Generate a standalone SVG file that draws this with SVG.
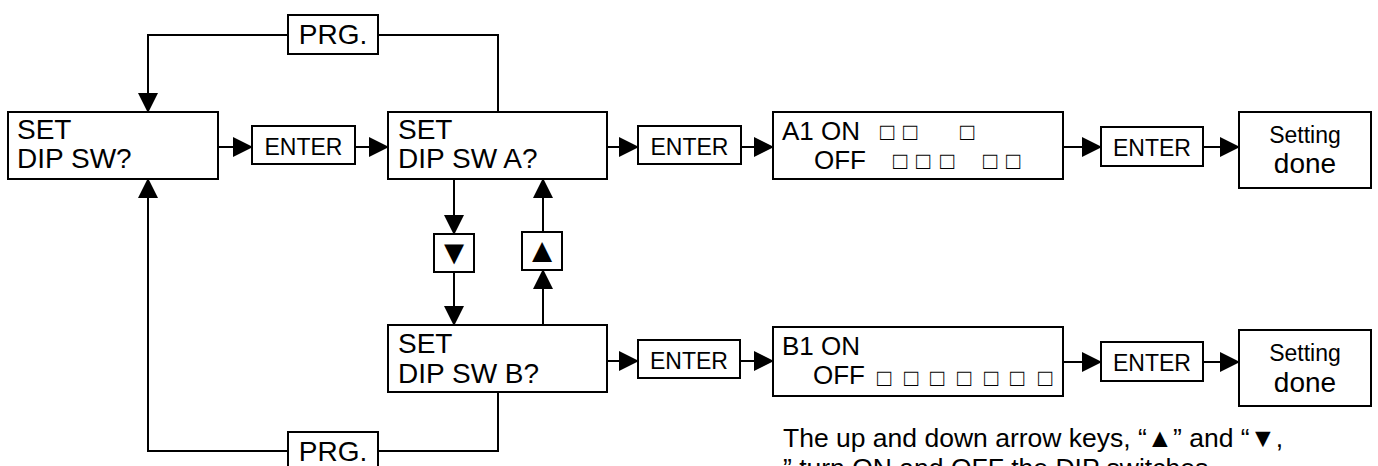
<svg xmlns="http://www.w3.org/2000/svg" width="1378" height="466" viewBox="0 0 1378 466">
<defs>
<style>
.b{fill:#fff;stroke:#000;stroke-width:2}
.t{font-family:"Liberation Sans",Arial,sans-serif;fill:#000}
.big{font-size:28px}
.mid{font-size:26px}
.ent{font-size:23px;text-anchor:middle}
.set{font-size:23px;text-anchor:middle}
.done{font-size:28px;text-anchor:middle}
.sq{font-family:"Liberation Sans",Arial,sans-serif;font-size:24px;fill:#000}
.key{font-family:"Liberation Sans",Arial,sans-serif;font-size:34px;text-anchor:middle;fill:#000}
.c{fill:none;stroke:#000;stroke-width:2}
.note{font-family:"Liberation Sans",Arial,sans-serif;font-size:26.5px;fill:#000}
</style>
<marker id="ah" viewBox="0 0 20 20" refX="19" refY="10" markerWidth="20" markerHeight="20" markerUnits="userSpaceOnUse" orient="auto"><path d="M0,0 L20,10 L0,20 z" fill="#000"/></marker>
</defs>
<rect width="1378" height="466" fill="#fff"/>
<g id="connectors">
<path class="c" d="M498,112 V35 H378"/>
<path class="c" d="M288,35 H148 V112" marker-end="url(#ah)"/>
<path class="c" d="M218,147 H252" marker-end="url(#ah)"/>
<path class="c" d="M355,147 H388" marker-end="url(#ah)"/>
<path class="c" d="M607,147 H638" marker-end="url(#ah)"/>
<path class="c" d="M741,147 H773" marker-end="url(#ah)"/>
<path class="c" d="M1063,147 H1101" marker-end="url(#ah)"/>
<path class="c" d="M1203,147 H1239" marker-end="url(#ah)"/>
<path class="c" d="M454,179 V234" marker-end="url(#ah)"/>
<path class="c" d="M454,272 V325" marker-end="url(#ah)"/>
<path class="c" d="M543,325 V270" marker-end="url(#ah)"/>
<path class="c" d="M543,232 V179" marker-end="url(#ah)"/>
<path class="c" d="M607,361 H638" marker-end="url(#ah)"/>
<path class="c" d="M740,361 H773" marker-end="url(#ah)"/>
<path class="c" d="M1063,362 H1101" marker-end="url(#ah)"/>
<path class="c" d="M1203,362 H1239" marker-end="url(#ah)"/>
<path class="c" d="M498,392 V451 H378"/>
<path class="c" d="M288,451 H148 V179" marker-end="url(#ah)"/>
</g>
<g id="set-dip-sw">
<rect class="b" x="8" y="112" width="210" height="67"/>
<text class="t big" x="17" y="139">SET</text>
<text class="t big" x="17" y="168">DIP SW?</text>
</g>
<g id="prg-top">
<rect class="b" x="288" y="15" width="90" height="39"/>
<text class="t big" x="333" y="44" text-anchor="middle">PRG.</text>
</g>
<g id="enter-1">
<rect class="b" x="252" y="126" width="103" height="38"/>
<text class="t ent" x="303.5" y="155">ENTER</text>
</g>
<g id="set-dip-sw-a">
<rect class="b" x="388" y="112" width="219" height="67"/>
<text class="t big" x="398" y="139">SET</text>
<text class="t big" x="398" y="168">DIP SW A?</text>
</g>
<g id="enter-2">
<rect class="b" x="638" y="126" width="103" height="38"/>
<text class="t ent" x="689.5" y="155">ENTER</text>
</g>
<g id="a1">
<rect class="b" x="773" y="112" width="290" height="67"/>
<text class="t mid" x="782" y="140">A1 ON</text>
<text class="t mid" x="814" y="169">OFF</text>
<text class="sq" y="140"><tspan x="880">□</tspan><tspan x="903">□</tspan><tspan x="960">□</tspan></text>
<text class="sq" y="169"><tspan x="893">□</tspan><tspan x="916">□</tspan><tspan x="940">□</tspan><tspan x="983">□</tspan><tspan x="1006">□</tspan></text>
</g>
<g id="enter-4">
<rect class="b" x="1101" y="127" width="102" height="39"/>
<text class="t ent" x="1152" y="156">ENTER</text>
</g>
<g id="done-1">
<rect class="b" x="1239" y="112" width="132" height="76"/>
<text class="t set" x="1305" y="143">Setting</text>
<text class="t done" x="1305" y="173">done</text>
</g>
<g id="key-down">
<rect class="b" x="434" y="234" width="40" height="38"/>
<text class="key" x="454" y="264">▼</text>
</g>
<g id="key-up">
<rect class="b" x="522" y="232" width="40" height="38"/>
<text class="key" x="542" y="262">▲</text>
</g>
<g id="set-dip-sw-b">
<rect class="b" x="388" y="325" width="219" height="67"/>
<text class="t big" x="398" y="353">SET</text>
<text class="t big" x="398" y="383">DIP SW B?</text>
</g>
<g id="enter-3">
<rect class="b" x="638" y="340" width="102" height="38"/>
<text class="t ent" x="689" y="369">ENTER</text>
</g>
<g id="b1">
<rect class="b" x="773" y="327" width="290" height="69"/>
<text class="t mid" x="782" y="355">B1 ON</text>
<text class="t mid" x="813" y="384">OFF</text>
<text class="sq" y="386"><tspan x="877">□</tspan><tspan x="904">□</tspan><tspan x="930">□</tspan><tspan x="957">□</tspan><tspan x="984">□</tspan><tspan x="1010">□</tspan><tspan x="1038">□</tspan></text>
</g>
<g id="enter-5">
<rect class="b" x="1101" y="342" width="102" height="39"/>
<text class="t ent" x="1152" y="371">ENTER</text>
</g>
<g id="done-2">
<rect class="b" x="1239" y="330" width="132" height="76"/>
<text class="t set" x="1305" y="361">Setting</text>
<text class="t done" x="1305" y="392">done</text>
</g>
<g id="prg-bottom">
<rect class="b" x="288" y="432" width="90" height="40"/>
<text class="t big" x="333" y="461" text-anchor="middle">PRG.</text>
</g>
<g id="note">
<text class="note" x="783" y="447">The up and down arrow keys, “▲” and “▼,</text>
<text class="note" x="783" y="477">” turn ON and OFF the DIP switches.</text>
</g>
</svg>
